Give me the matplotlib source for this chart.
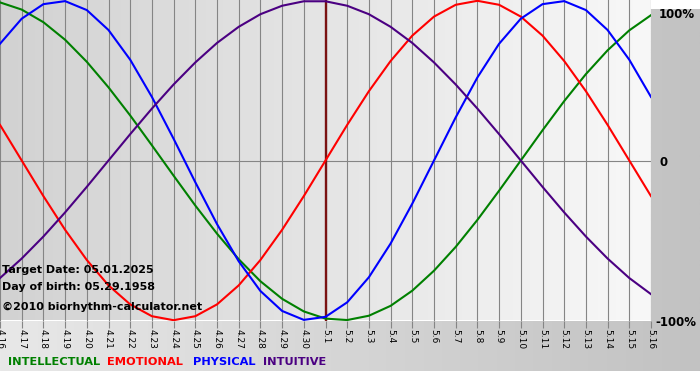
import numpy as np
import matplotlib
matplotlib.use("Agg")
import matplotlib.pyplot as plt
from matplotlib.colors import LinearSegmentedColormap

# day labels 4.16 .. 5.16
days = ["4.%d" % d for d in range(16, 31)] + ["5.%d" % d for d in range(1, 17)]

# cycle values, one per day (-1 .. 1)
physical = [0.731, 0.888, 0.979, 0.998, 0.942, 0.817, 0.631, 0.398, 0.136, -0.136,
            -0.398, -0.631, -0.817, -0.942, -0.998, -0.979, -0.888, -0.731, -0.520, -0.270,
            0.0, 0.270, 0.520, 0.731, 0.888, 0.979, 0.998, 0.942, 0.817, 0.631, 0.398]
emotional = [0.223, 0.0, -0.223, -0.434, -0.623, -0.782, -0.901, -0.975, -1.0, -0.975,
             -0.901, -0.782, -0.623, -0.434, -0.223, 0.0, 0.223, 0.434, 0.623, 0.782,
             0.901, 0.975, 1.0, 0.975, 0.901, 0.782, 0.623, 0.434, 0.223, 0.0, -0.223]
intellectual = [0.990, 0.945, 0.866, 0.756, 0.618, 0.458, 0.282, 0.095, -0.095, -0.282,
                -0.458, -0.618, -0.756, -0.866, -0.945, -0.990, -0.999, -0.972, -0.910, -0.815,
                -0.690, -0.541, -0.372, -0.189, 0.0, 0.189, 0.372, 0.541, 0.690, 0.815, 0.910]
intuitive = [-0.736, -0.614, -0.476, -0.325, -0.165, 0.0, 0.165, 0.325, 0.476, 0.614,
             0.736, 0.837, 0.916, 0.969, 0.997, 0.997, 0.969, 0.916, 0.837, 0.736,
             0.614, 0.476, 0.325, 0.165, 0.0, -0.165, -0.325, -0.476, -0.614, -0.736, -0.837]
target_idx = days.index("5.1")

W, H = 700, 380
fig = plt.figure(figsize=(7, 3.8), dpi=100)
fig.patch.set_facecolor("white")

# outer gray gradient background
bg = fig.add_axes([0, 9 / H, 1, 362 / H], zorder=0)
bg.imshow(np.linspace(0, 1, 256).reshape(1, -1), aspect="auto",
          cmap=LinearSegmentedColormap.from_list("o", ["#e8e8e8", "#c2c2c2"]),
          extent=[0, 1, 0, 1])
bg.set_axis_off()

ax = fig.add_axes([0, 1 - 321 / H, 651 / W, 321 / H], zorder=1)
x = np.arange(len(days))
ax.imshow(np.linspace(0, 1, 256).reshape(1, -1), aspect="auto",
          cmap=LinearSegmentedColormap.from_list("p", ["#d2d2d2", "#f8f8f8"]),
          extent=[0, len(days) - 1, -1, 1], zorder=0)

for xi in x:
    ax.axvline(xi, color="#858585", lw=0.8, zorder=1)
ax.axhline(0, color="#858585", lw=0.8, zorder=1)
ax.axvline(target_idx, color="#7a1212", lw=1.7, zorder=2)

ax.plot(x, intellectual, color="#008000", lw=1.5, zorder=3)
ax.plot(x, emotional, color="#ff0000", lw=1.5, zorder=3)
ax.plot(x, physical, color="#0000ff", lw=1.5, zorder=3)
ax.plot(x, intuitive, color="#4b0082", lw=1.5, zorder=3)

ax.set_xlim(0, len(days) - 1)
ax.set_ylim(-1.005, 1.005)
ax.set_xticks(x)
ax.set_xticklabels(days, rotation=270, fontsize=6.5)
ax.tick_params(axis="x", length=5, color="#858585", pad=0.5)
ax.set_yticks([])
for s in ax.spines.values():
    s.set_visible(False)

fig.text(2 / W, 1 - 270 / H, "Target Date: 05.01.2025", fontsize=8,
         fontweight="bold", va="center", zorder=4)
fig.text(2 / W, 1 - 287 / H, "Day of birth: 05.29.1958", fontsize=8,
         fontweight="bold", va="center", zorder=4)
fig.text(2 / W, 1 - 307 / H, "\u00a92010 biorhythm-calculator.net", fontsize=8,
         fontweight="bold", va="center", zorder=4)

fig.text(659 / W, 1 - 15 / H, "100%", fontsize=8.5, fontweight="bold", va="center")
fig.text(659 / W, 1 - 162 / H, "0", fontsize=8.5, fontweight="bold", va="center")
fig.text(655 / W, 1 - 322 / H, "-100%", fontsize=8.5, fontweight="bold", va="center")

legend = [("INTELLECTUAL", "#008000", 8), ("EMOTIONAL", "#ff0000", 107),
          ("PHYSICAL", "#0000ff", 193), ("INTUITIVE", "#4b0082", 263)]
for name, col, px in legend:
    fig.text(px / W, 1 - 362 / H, name, color=col, fontsize=8.2,
             fontweight="bold", va="center")

fig.savefig("out.png", dpi=100)
